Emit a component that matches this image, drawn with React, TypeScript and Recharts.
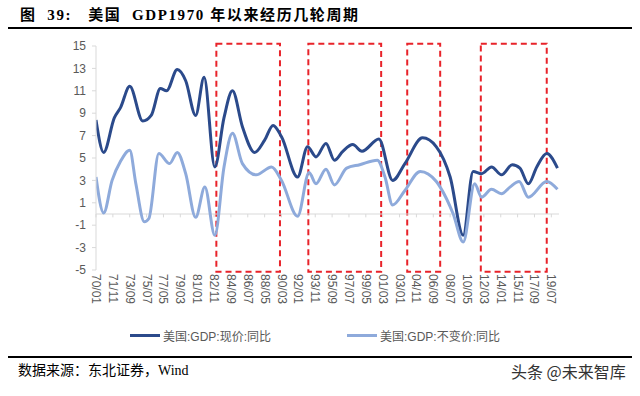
import React from "react";
import { LineChart, Line, XAxis, YAxis, ReferenceLine, ReferenceArea } from "recharts";

// Months counted from 1970/01 (0 = Jan 1970)
const nominalMonths = [0, 10, 24, 32, 44, 61, 72, 84, 92, 106, 117, 130, 141, 155, 167, 178, 191, 207, 220, 231, 242, 263, 276, 287, 300, 311, 322, 335, 347, 369, 387, 403, 426, 444, 462, 479, 492, 503, 516, 529, 543, 553, 564, 575, 588, 602];
const nominalYoY = [8.4, 5.5, 8.6, 9.5, 11.4, 8.3, 8.8, 11.2, 11.0, 12.9, 11.9, 8.8, 12.2, 4.2, 8.6, 11.0, 7.8, 5.5, 6.6, 7.9, 6.9, 3.3, 6.0, 5.1, 6.3, 4.8, 5.6, 6.2, 5.6, 6.7, 3.0, 4.5, 6.8, 6.0, 3.3, -1.9, 3.8, 3.6, 4.2, 3.5, 4.4, 4.1, 2.7, 4.2, 5.4, 4.1];

const realMonths = [0, 10, 21, 32, 44, 52, 63, 69, 82, 96, 106, 117, 130, 142, 155, 167, 178, 191, 209, 229, 242, 263, 278, 287, 300, 311, 327, 344, 367, 377, 387, 403, 423, 444, 449, 466, 479, 494, 503, 516, 529, 540, 552, 564, 588, 602];
const realYoY = [3.3, 0.1, 3.0, 4.7, 5.7, 2.7, -0.7, -0.4, 5.4, 4.5, 5.5, 3.6, -0.3, 2.4, -1.9, 4.2, 7.2, 4.5, 3.5, 4.2, 3.0, -0.2, 3.7, 2.7, 4.0, 2.6, 4.1, 4.4, 4.8, 3.3, 0.8, 2.1, 3.8, 2.9, 2.4, 0.0, -2.5, 2.7, 1.5, 2.2, 1.8, 2.4, 2.9, 1.5, 2.9, 2.2];

const tickLabels = ["70/01", "71/11", "73/09", "75/07", "77/05", "79/03", "81/01", "82/11", "84/09", "86/07", "88/05", "90/03", "92/01", "93/11", "95/09", "97/07", "99/05", "01/03", "03/01", "04/11", "06/09", "08/07", "10/05", "12/03", "14/01", "15/11", "17/09", "19/07"];
const yTicks = [-5, -3, -1, 1, 3, 5, 7, 9, 11, 13, 15];

// Highlighted cycles (start, end)
const cycleStarts = ["83/02", "93/02", "03/11", "11/11"];
const cycleEnds = ["90/01", "01/01", "07/06", "19/01"];

const seriesNames = ["美国:GDP:现价:同比", "美国:GDP:不变价:同比"];
const seriesColors = ["#2b4a8b", "#8eaadb"];

const toMonth = (label: string) => {
  const [yy, mm] = label.split("/").map(Number);
  const year = yy >= 70 ? yy - 70 : yy + 30;
  return year * 12 + (mm - 1);
};

const tickMonths = tickLabels.map(toMonth);
const nominalData = nominalMonths.map((m, i) => ({ m, v: nominalYoY[i] }));
const realData = realMonths.map((m, i) => ({ m, v: realYoY[i] }));

const sansFont = '"Liberation Sans", Arial, "Noto Sans CJK SC", sans-serif';
const serifFont = '"Liberation Serif", "Noto Sans CJK SC", serif';

const RotatedTick = (props: any) => {
  const { x, y, payload } = props;
  const idx = tickMonths.indexOf(payload.value);
  return (
    <text
      x={x}
      y={y}
      transform={`rotate(90, ${x}, ${y})`}
      textAnchor="start"
      dominantBaseline="central"
      fill="#595959"
      fontSize={12}
      fontFamily={sansFont}
    >
      {idx >= 0 ? tickLabels[idx] : ""}
    </text>
  );
};

const LegendItem = ({ left, color, name }: { left: number; color: string; name: string }) => (
  <div style={{ position: "absolute", left, top: 327, height: 16, display: "flex", alignItems: "center" }}>
    <div style={{ width: 30, height: 3, background: color }} />
    <span style={{ marginLeft: 3, fontSize: 12, color: "#595959", fontFamily: sansFont, whiteSpace: "nowrap" }}>{name}</span>
  </div>
);

export default function App() {
  return (
    <div style={{ position: "absolute", left: 0, top: 0, width: 640, height: 396, background: "#fff", overflow: "hidden" }}>
      <div
        style={{
          position: "absolute",
          left: 20,
          top: 6,
          fontFamily: serifFont,
          fontWeight: "bold",
          fontSize: 15,
          lineHeight: "18px",
          letterSpacing: 1.6,
          whiteSpace: "pre",
          color: "#000",
        }}
      >
        {"图  39:   美国  GDP1970 年以来经历几轮周期"}
      </div>
      <div style={{ position: "absolute", left: 8, top: 27, width: 624, height: 2, background: "#000" }} />

      <div style={{ position: "absolute", left: 0, top: 0 }}>
        <LineChart width={640} height={396} margin={{ top: 46, right: 81, bottom: 0, left: 0 }}>
          <XAxis
            type="number"
            dataKey="m"
            domain={[0, 604]}
            ticks={tickMonths}
            interval={0}
            axisLine={false}
            tickLine={false}
            tickSize={0}
            tickMargin={4}
            height={126}
            tick={<RotatedTick />}
            allowDataOverflow
          />
          <YAxis
            domain={[-5, 15]}
            ticks={yTicks}
            interval={0}
            width={96}
            axisLine={{ stroke: "#d9d9d9" }}
            tickLine={{ stroke: "#d9d9d9" }}
            tickSize={4}
            tickMargin={6}
            tick={{ fill: "#595959", fontSize: 12, fontFamily: sansFont }}
            allowDataOverflow
          />
          <ReferenceLine y={0} stroke="#d9d9d9" strokeWidth={1} />
          {tickMonths.map((m) => (
            <ReferenceLine
              key={`t${m}`}
              segment={[{ x: m, y: 0 }, { x: m, y: -0.3 }]}
              stroke="#d9d9d9"
              strokeWidth={1}
            />
          ))}
          <Line
            data={nominalData}
            dataKey="v"
            name={seriesNames[0]}
            type="monotone"
            stroke={seriesColors[0]}
            strokeWidth={3}
            dot={false}
            activeDot={false}
            isAnimationActive={false}
          />
          <Line
            data={realData}
            dataKey="v"
            name={seriesNames[1]}
            type="monotone"
            stroke={seriesColors[1]}
            strokeWidth={3}
            dot={false}
            activeDot={false}
            isAnimationActive={false}
          />
          {cycleStarts.map((s, i) => (
            <ReferenceArea
              key={s}
              x1={toMonth(s)}
              x2={toMonth(cycleEnds[i])}
              y1={-5.15}
              y2={15.2}
              fill="none"
              fillOpacity={0}
              stroke="#e8232a"
              strokeWidth={2}
              strokeDasharray="6 4"
              ifOverflow="visible"
            />
          ))}
        </LineChart>
      </div>

      <LegendItem left={130} color={seriesColors[0]} name={seriesNames[0]} />
      <LegendItem left={347} color={seriesColors[1]} name={seriesNames[1]} />

      <div style={{ position: "absolute", left: 8, top: 356, width: 624, height: 2, background: "#000" }} />
      <div
        style={{
          position: "absolute",
          left: 18,
          top: 362,
          fontFamily: serifFont,
          fontSize: 14,
          lineHeight: "18px",
          color: "#000",
          whiteSpace: "nowrap",
        }}
      >
        数据来源：东北证券，Wind
      </div>
      <div
        style={{
          position: "absolute",
          left: 511,
          top: 361,
          fontFamily: '"Noto Sans CJK SC", sans-serif',
          fontSize: 16,
          lineHeight: "20px",
          color: "#333",
          whiteSpace: "pre",
        }}
      >
        {"头条 @未来智库"}
      </div>
    </div>
  );
}
